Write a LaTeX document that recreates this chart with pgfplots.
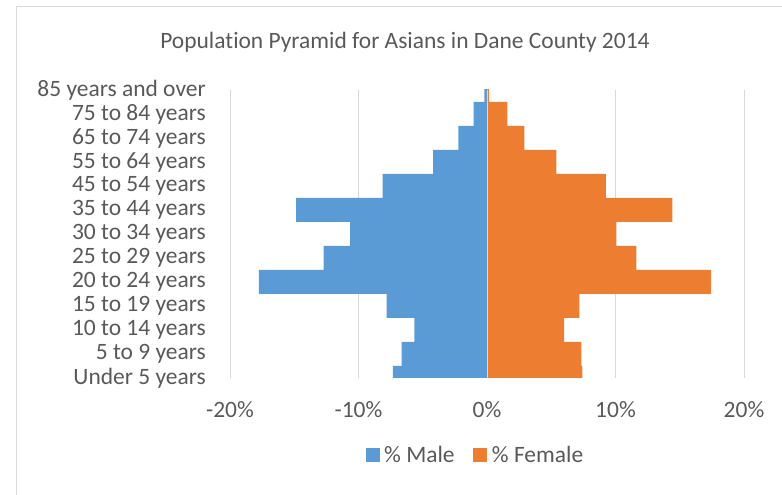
\documentclass[border=0pt]{standalone}
\usepackage{fontspec}
\setmainfont{Carlito}[Ligatures={NoCommon,NoContextual}]
\usepackage{pgfplots}
\pgfplotsset{compat=1.18}
\definecolor{male}{HTML}{5B9BD5}
\definecolor{female}{HTML}{ED7D31}
\definecolor{txt}{HTML}{595959}
\definecolor{gridc}{HTML}{D9D9D9}
\begin{document}
\begin{tikzpicture}
\useasboundingbox (0,0) rectangle (586.5pt,371.25pt);
\draw[gridc, line width=0.75pt] (12pt,-1pt) -- (12pt,366pt) -- (590pt,366pt);
\node[font=\fontsize{17.6}{21}\selectfont, text=txt] at (303.75pt,339.75pt)
  {Population Pyramid for Asians in Dane County 2014};
\begin{axis}[
  at={(172.5pt,87.75pt)}, anchor=south west,
  width=385.5pt, height=216pt, scale only axis,
  xbar, bar width=1, bar shift=0pt,
  xmin=-20, xmax=20, ymin=0, ymax=12,
  xtick={-20,-10,0,10,20},
  xticklabels={-20\%,-10\%,0\%,10\%,20\%},
  ytick={0,...,12},
  yticklabels={Under 5 years,5 to 9 years,10 to 14 years,15 to 19 years,
    20 to 24 years,25 to 29 years,30 to 34 years,35 to 44 years,
    45 to 54 years,55 to 64 years,65 to 74 years,75 to 84 years,85 years and over},
  axis x line=bottom, axis y line=left,
  axis line style={draw=none,-},
  major tick length=0pt,
  xmajorgrids, major grid style={gridc, line width=0.75pt},
  tick label style={font=\fontsize{17.6}{21}\selectfont, text=txt},
  xticklabel style={anchor=base, yshift=-30pt},
  yticklabel style={anchor=east, inner sep=0pt, xshift=-18pt},
  legend style={at={(0.4767,-0.267)}, anchor=center, draw=none, fill=none,
    legend columns=2, font=\fontsize{17.6}{21}\selectfont, text=txt,
    /tikz/every even column/.append style={column sep=13pt},
    nodes={inner sep=1pt}},
  legend image code/.code={\fill[#1] (0pt,-5.25pt) rectangle (10.5pt,5.25pt);
    \path (0pt,0pt) -- (13pt,0pt);},
]
\addplot[fill=male, draw=none] coordinates {
  (-7.32,0) (-6.65,1) (-5.66,2) (-7.81,3) (-17.76,4) (-12.72,5) (-10.65,6)
  (-14.86,7) (-8.13,8) (-4.19,9) (-2.23,10) (-1.05,11) (-0.21,12)};
\addplot[fill=female, draw=none] coordinates {
  (7.43,0) (7.35,1) (6.01,2) (7.19,3) (17.44,4) (11.62,5) (10.06,6)
  (14.43,7) (9.26,8) (5.39,9) (2.90,10) (1.58,11) (0.16,12)};
\draw[gridc, line width=0.75pt] (axis cs:0,0) -- (axis cs:0,12);
\legend{\% Male, \% Female}
\end{axis}
\end{tikzpicture}
\end{document}
